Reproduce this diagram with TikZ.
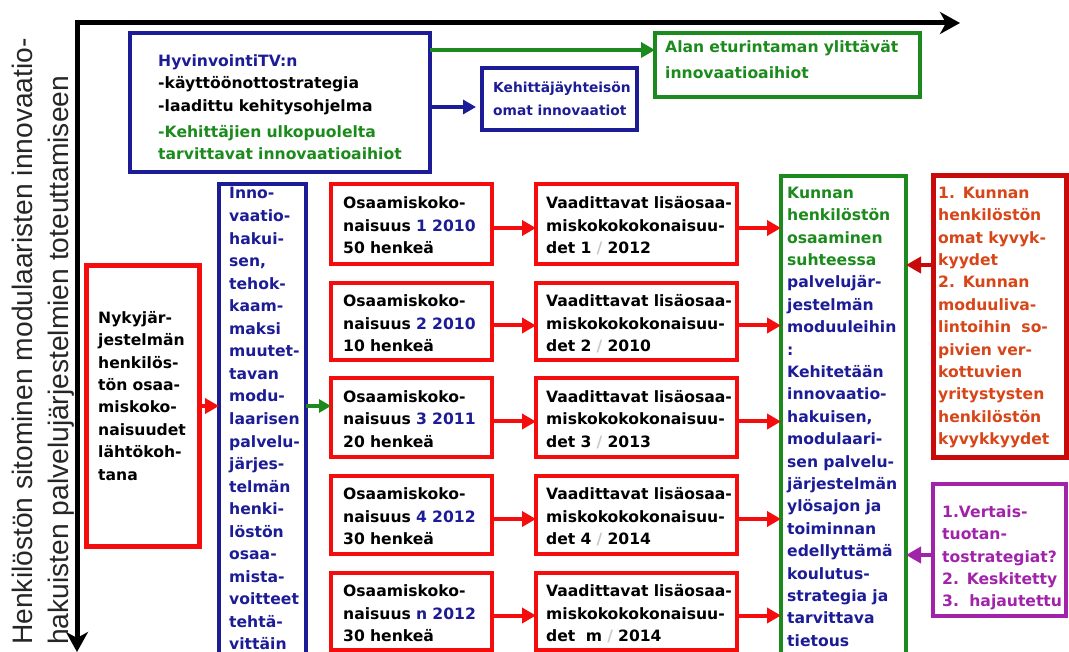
\documentclass[tikz,border=0pt]{standalone}
\usepackage{fontspec}
\usetikzlibrary{arrows.meta}
\newfontfamily\boxfont{DejaVu Sans}
\newfontfamily\axisfont{Liberation Sans}

\definecolor{navy}{RGB}{28,28,150}
\definecolor{bred}{RGB}{245,12,12}
\definecolor{grn}{RGB}{28,138,28}
\definecolor{dred}{RGB}{200,10,10}
\definecolor{org}{RGB}{215,70,25}
\definecolor{purp}{RGB}{160,35,170}
\definecolor{slash}{RGB}{200,200,200}

\tikzset{
  box/.style={draw=#1, line width=4.5pt, anchor=north west, inner sep=0pt, outer sep=0pt},
  txt/.style={anchor=north west, inner sep=0pt, text width=320pt, align=left,
    font=\boxfont\bfseries\fontsize{15.6}{22.4}\selectfont,
    execute at begin node=\strut, text=#1},
  smalltxt/.style={font=\boxfont\bfseries\fontsize{13.8}{22.4}\selectfont},
  vlabel/.style={rotate=90, anchor=base west, inner sep=0pt,
    font=\axisfont\fontsize{28.2}{34}\selectfont, text=black!85},
  axis/.style={line width=5pt, line join=miter,
    {Stealth[length=20pt,width=22pt,inset=6pt]}-{Stealth[length=20pt,width=22pt,inset=6pt]}},
  conn/.style={line width=4pt, draw=#1, -{Triangle[length=14pt,width=15pt]}},
}

\begin{document}
\begin{tikzpicture}[x=1pt,y=-1pt]
\useasboundingbox (0,0) rectangle (1069,652);
\clip (0,0) rectangle (1069,652);

% time and staff axes
\coordinate (corner) at (77,23);
\coordinate (timeEnd) at (960,23);
\coordinate (staffEnd) at (77,652);
\draw[axis] (timeEnd) -- (corner) -- (staffEnd);

\node[vlabel] (lab1) at (32,645) {Henkilöstön sitominen modulaaristen innovaatio-};
\node[vlabel] (lab2) at (68,645) {hakuisten palvelujärjestelmien toteuttamiseen};

% top row
\node[box=navy, minimum width=300pt, minimum height=139pt] (hyv) at (130,33) {};
\node[txt=black] (hyvT) at ([xshift=28pt,yshift=-17.5pt]hyv.north west)
  {{\color{navy}HyvinvointiTV:n}\\-käyttöönottostrategia\\-laadittu kehitysohjelma\\[3.5pt]
   {\color{grn}-Kehittäjien ulkopuolelta\\tarvittavat innovaatioaihiot}};

\node[box=navy, line width=4pt, minimum width=155pt, minimum height=62pt] (kehi) at (482,68) {};
\node[txt=navy, smalltxt] (kehiT) at ([xshift=11pt,yshift=-9pt]kehi.north west)
  {Kehittäjäyhteisön\\omat innovaatiot};

\node[box=grn, line width=4pt, minimum width=265pt, minimum height=64pt] (alan) at (655,33) {};
\node[txt=grn] (alanT) at ([xshift=10pt,yshift=-4pt]alan.north west)
  {Alan eturintaman ylittävät\\[3.5pt]innovaatioaihiot};

% starting point and target column
\node[box=bred, line width=5pt, minimum width=113pt, minimum height=280pt] (nyky) at (86,266) {};
\node[txt=black] (nykyT) at ([xshift=12pt,yshift=-41.5pt]nyky.north west)
  {Nykyjär-\\jestelmän\\henkilös-\\tön osaa-\\miskoko-\\naisuudet\\lähtökoh-\\tana};

\node[box=navy, line width=3.5pt, minimum width=87pt, minimum height=480pt] (innov) at (219,184) {};
\node[txt=navy, font=\boxfont\bfseries\fontsize{15.6}{22.55}\selectfont] (innovT) at ([xshift=10pt,yshift=1pt]innov.north west)
  {Inno-\\vaatio-\\hakui-\\sen,\\tehok-\\kaam-\\maksi\\muutet-\\tavan\\modu-\\laarisen\\palvelu-\\järjes-\\telmän\\henki-\\löstön\\osaa-\\mista-\\voitteet\\tehtä-\\vittäin};

% competence rows
\node[box=bred, minimum width=161pt, minimum height=80pt] (o1) at (331,184) {};
\node[box=bred, minimum width=161pt, minimum height=77pt] (o2) at (331,283) {};
\node[box=bred, minimum width=161pt, minimum height=79pt] (o3) at (331,378) {};
\node[box=bred, minimum width=161pt, minimum height=78pt] (o4) at (331,476) {};
\node[box=bred, minimum width=161pt, minimum height=77pt] (o5) at (331,573) {};

\node[box=bred, minimum width=201pt, minimum height=80pt] (v1) at (536,184) {};
\node[box=bred, minimum width=201pt, minimum height=77pt] (v2) at (536,283) {};
\node[box=bred, minimum width=201pt, minimum height=79pt] (v3) at (536,378) {};
\node[box=bred, minimum width=201pt, minimum height=78pt] (v4) at (536,476) {};
\node[box=bred, minimum width=201pt, minimum height=77pt] (v5) at (536,573) {};

\node[txt=black] (o1T) at ([xshift=12pt,yshift=-9pt]o1.north west) {Osaamiskoko-\\naisuus {\color{navy}1 2010}\\50 henkeä};
\node[txt=black] (o2T) at ([xshift=12pt,yshift=-8pt]o2.north west) {Osaamiskoko-\\naisuus {\color{navy}2 2010}\\10 henkeä};
\node[txt=black] (o3T) at ([xshift=12pt,yshift=-8.5pt]o3.north west) {Osaamiskoko-\\naisuus {\color{navy}3 2011}\\20 henkeä};
\node[txt=black] (o4T) at ([xshift=12pt,yshift=-8pt]o4.north west) {Osaamiskoko-\\naisuus {\color{navy}4 2012}\\30 henkeä};
\node[txt=black] (o5T) at ([xshift=12pt,yshift=-8pt]o5.north west) {Osaamiskoko-\\naisuus {\color{navy}n 2012}\\30 henkeä};

\node[txt=black] (v1T) at ([xshift=10pt,yshift=-9pt]v1.north west) {Vaadittavat lisäosaa-\\miskokokokonaisuu-\\det 1 {\color{slash}/} 2012};
\node[txt=black] (v2T) at ([xshift=10pt,yshift=-8pt]v2.north west) {Vaadittavat lisäosaa-\\miskokokokonaisuu-\\det 2 {\color{slash}/} 2010};
\node[txt=black] (v3T) at ([xshift=10pt,yshift=-8.5pt]v3.north west) {Vaadittavat lisäosaa-\\miskokokokonaisuu-\\det 3 {\color{slash}/} 2013};
\node[txt=black] (v4T) at ([xshift=10pt,yshift=-8pt]v4.north west) {Vaadittavat lisäosaa-\\miskokokokonaisuu-\\det 4 {\color{slash}/} 2014};
\node[txt=black] (v5T) at ([xshift=10pt,yshift=-8pt]v5.north west) {Vaadittavat lisäosaa-\\miskokokokonaisuu-\\det\ \ m {\color{slash}/} 2014};

% municipal staff competence column
\node[box=grn, line width=3.5pt, minimum width=125pt, minimum height=484pt] (kunnan) at (781,176) {};
\node[txt=navy] (kunnanT) at ([xshift=6pt,yshift=-6.5pt]kunnan.north west)
  {{\color{grn}Kunnan\\henkilöstön\\osaaminen\\suhteessa}\\palvelujär-\\jestelmän\\moduuleihin\\:\\Kehitetään\\innovaatio-\\hakuisen,\\modulaari-\\sen palvelu-\\järjestelmän\\ylösajon ja\\toiminnan\\edellyttämä\\koulutus-\\strategia ja\\tarvittava\\tietous};

% capability sources and production strategies
\node[box=dred, line width=5pt, minimum width=133pt, minimum height=281pt] (kyky) at (933,176) {};
\node[txt=org] (kykyT) at ([xshift=5pt,yshift=-6.5pt]kyky.north west)
  {1. Kunnan\\henkilöstön\\omat kyvyk-\\kyydet\\2. Kunnan\\moduuliva-\\lintoihin\ \ so-\\pivien ver-\\kottuvien\\yritystysten\\henkilöstön\\kyvykkyydet};

\node[box=purp, minimum width=133pt, minimum height=132pt] (purp) at (933,484) {};
\node[txt=purp] (purpT) at ([xshift=9pt,yshift=-17.5pt]purp.north west)
  {1.Vertais-\\tuotan-\\tostrategiat?\\2. Keskitetty\\3. \,hajautettu};

% connectors
\coordinate (alanIn) at ([yshift=15pt]alan.west);
\draw[conn=grn] (hyv.east |- alanIn) -- (alanIn);
\coordinate (kehiIn) at ([yshift=-8pt]kehi.west);
\draw[conn=navy, -{Triangle[length=13pt,width=14pt]}] (hyv.east |- kehiIn) -- ([xshift=-6pt]kehiIn);

\draw[conn=bred] (nyky.east) -- (nyky.east -| innov.west);
\draw[conn=grn, -{Triangle[length=12pt,width=13pt]}] (nyky.east -| innov.east) -- (nyky.east -| o3.west);

\foreach \r in {1,...,5}{
  \coordinate (a\r) at ([yshift=-4pt]o\r.east);
  \draw[conn=bred] (a\r) -- (a\r -| v\r.west);
  \coordinate (b\r) at ([yshift=-4pt]v\r.east);
  \draw[conn=bred] (b\r) -- (b\r -| kunnan.west);
}

\coordinate (kyOut) at ([yshift=51.5pt]kyky.west);
\draw[conn=dred, -{Triangle[length=15pt,width=16pt]}] (kyOut) -- (kyOut -| kunnan.east);
\coordinate (puOut) at ([yshift=-5pt]purp.west);
\draw[conn=purp, -{Triangle[length=15pt,width=16pt]}] (puOut) -- (puOut -| kunnan.east);
\end{tikzpicture}
\end{document}
